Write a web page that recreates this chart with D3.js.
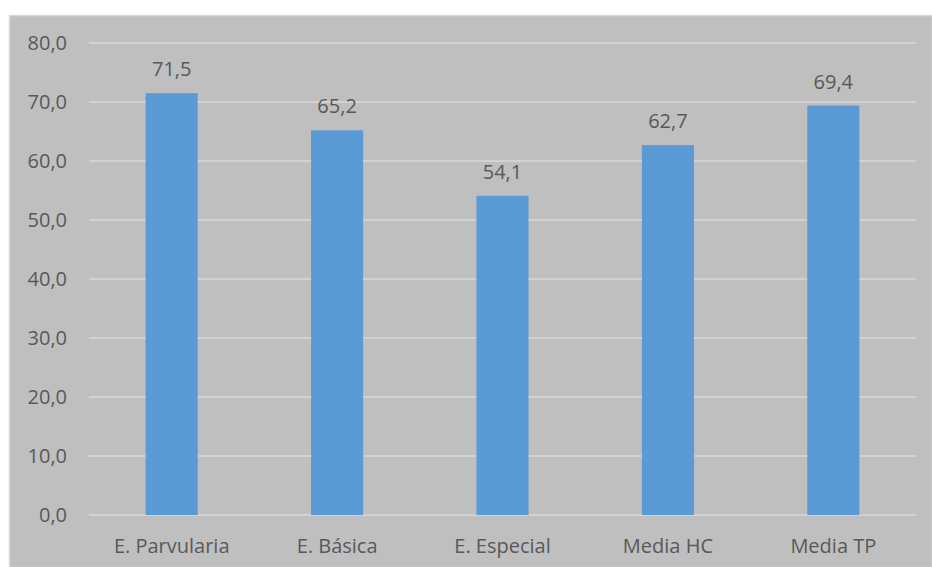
<!DOCTYPE html>
<html>
<head>
<meta charset="utf-8">
<script src="https://cdn.jsdelivr.net/npm/d3@7/dist/d3.min.js"></script>
<style>
  html, body { margin: 0; padding: 0; background: #ffffff; }
  svg { display: block; }
  text { font-family: "Open Sans", "Noto Sans", sans-serif; fill: #595959; }
</style>
</head>
<body>
<svg id="chart" width="932" height="567"></svg>
<script>
const categories = ["E. Parvularia", "E. Básica", "E. Especial", "Media HC", "Media TP"];
const values = [71.5, 65.2, 54.1, 62.7, 69.4];
const yTicks = [0, 10, 20, 30, 40, 50, 60, 70, 80];

const fmt = v => d3.format(".1f")(v).replace(".", ",");
const FONT = "'Open Sans', 'Noto Sans', sans-serif";
const FS = 20;

const svg = d3.select("#chart");
const W = 932, H = 567;
const margin = { left: 89, right: 16, top: 43, bottom: 52 };

// chart frame
svg.append("rect")
  .attr("x", 9.5).attr("y", 15.5)
  .attr("width", W - 9).attr("height", H - 15)
  .attr("fill", "#bfbfbf")
  .attr("stroke", "#d9d9d9").attr("stroke-width", 1.5);

const x = d3.scaleBand()
  .domain(categories)
  .range([margin.left, W - margin.right])
  .paddingInner(0.685).paddingOuter(0.3425);

const y = d3.scaleLinear()
  .domain([0, 80])
  .range([H - margin.bottom, margin.top]);

// gridlines
svg.append("g").selectAll("line")
  .data(yTicks).join("line")
  .attr("x1", margin.left).attr("x2", W - margin.right)
  .attr("y1", d => y(d)).attr("y2", d => y(d))
  .attr("stroke", "#d9d9d9").attr("stroke-width", 1.5);

// y axis labels
const yAxis = d3.axisLeft(y).tickValues(yTicks).tickFormat(fmt).tickSize(0).tickPadding(22);
const gy = svg.append("g").attr("transform", `translate(${margin.left},0)`).call(yAxis);
gy.select(".domain").remove();
gy.selectAll("text").attr("font-size", FS).attr("fill", "#595959").style("font-family", FONT);

// bars
svg.append("g").selectAll("rect")
  .data(values).join("rect")
  .attr("x", (d, i) => x(categories[i]))
  .attr("width", x.bandwidth())
  .attr("y", d => y(d))
  .attr("height", d => y(0) - y(d))
  .attr("fill", "#5b9bd5");

// value labels
svg.append("g").selectAll("text")
  .data(values).join("text")
  .attr("x", (d, i) => x(categories[i]) + x.bandwidth() / 2)
  .attr("y", d => y(d) - 17)
  .attr("text-anchor", "middle")
  .attr("font-size", FS)
  .style("font-family", FONT)
  .text(fmt);

// category labels
const xAxis = d3.axisBottom(x).tickSize(0).tickPadding(24);
const gx = svg.append("g").attr("transform", `translate(0,${y(0)})`).call(xAxis);
gx.select(".domain").remove();
gx.selectAll("text").attr("font-size", FS).attr("fill", "#595959").style("font-family", FONT);
</script>
</body>
</html>
